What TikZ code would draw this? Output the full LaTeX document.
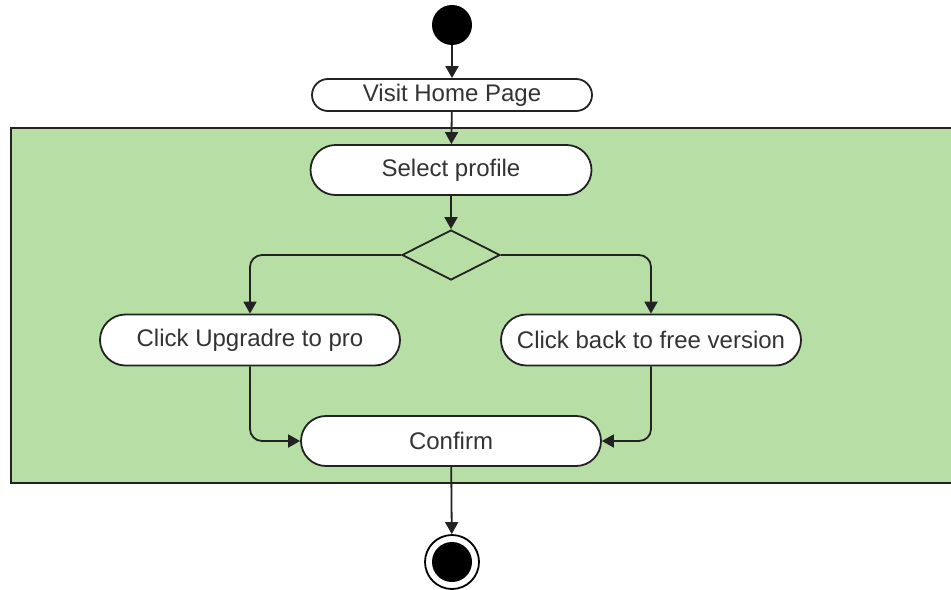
\documentclass[tikz,border=0pt]{standalone}
\usepackage{fontspec}
\setmainfont{Liberation Sans}
\usetikzlibrary{arrows.meta,shapes.misc,shapes.geometric}
\definecolor{laneGreen}{HTML}{B7DFA5}
\definecolor{ink}{HTML}{222222}
\definecolor{txt}{HTML}{333333}
\tikzset{
  action/.style={rounded rectangle, draw=ink, fill=white, line width=0.9pt,
    inner sep=0pt, minimum width=150pt, minimum height=25.5pt,
    text=txt, font=\fontsize{12}{14}\selectfont},
  decision/.style={diamond, draw=ink, fill=laneGreen, line width=0.9pt,
    inner sep=0pt, minimum width=49pt, minimum height=25pt},
  initial/.style={circle, fill=black, inner sep=0pt, minimum size=20pt},
  final/.style={circle, draw=black, fill=white, line width=0.9pt, inner sep=0pt,
    minimum size=27pt, path picture={\fill[black] (path picture bounding box.center) circle (10pt);}},
  flow/.style={draw=ink, line width=0.9pt, rounded corners=6pt,
    -{Triangle[length=6pt, width=6.5pt]}},
  lane/.style={draw=ink, fill=laneGreen, line width=1pt}
}

\begin{document}
\begin{tikzpicture}[x=0.5pt, y=-0.5pt]
  \useasboundingbox (0,0) rectangle (951,589);
  \draw[lane] (11,128) rectangle (960,483);

  \node[initial] (start) at (452,25) {};
  \node[action, minimum width=140pt, minimum height=16pt] (visit) at (452,95) {Visit Home Page};
  \node[action, minimum width=140.5pt, minimum height=25pt] (select) at (451,170) {Select profile};
  \node[decision] (dec) at (451,255) {};
  \node[action] (pro) at (250,340) {Click Upgradre to pro};
  \node[action] (free) at (651,340) {Click back to free version};
  \node[action, minimum height=25pt] (confirm) at (451,441) {Confirm};
  \node[final] (end) at (452,562) {};

  \draw[flow] (start) -- (visit);
  \draw[flow] (visit) -- (select);
  \draw[flow] (select) -- (dec);
  \draw[flow] (dec.west) -| (pro.north);
  \draw[flow] (dec.east) -| (free.north);
  \draw[flow] (pro.south) |- (confirm.west);
  \draw[flow] (free.south) |- (confirm.east);
  \draw[flow] (confirm) -- (end);
\end{tikzpicture}
\end{document}
